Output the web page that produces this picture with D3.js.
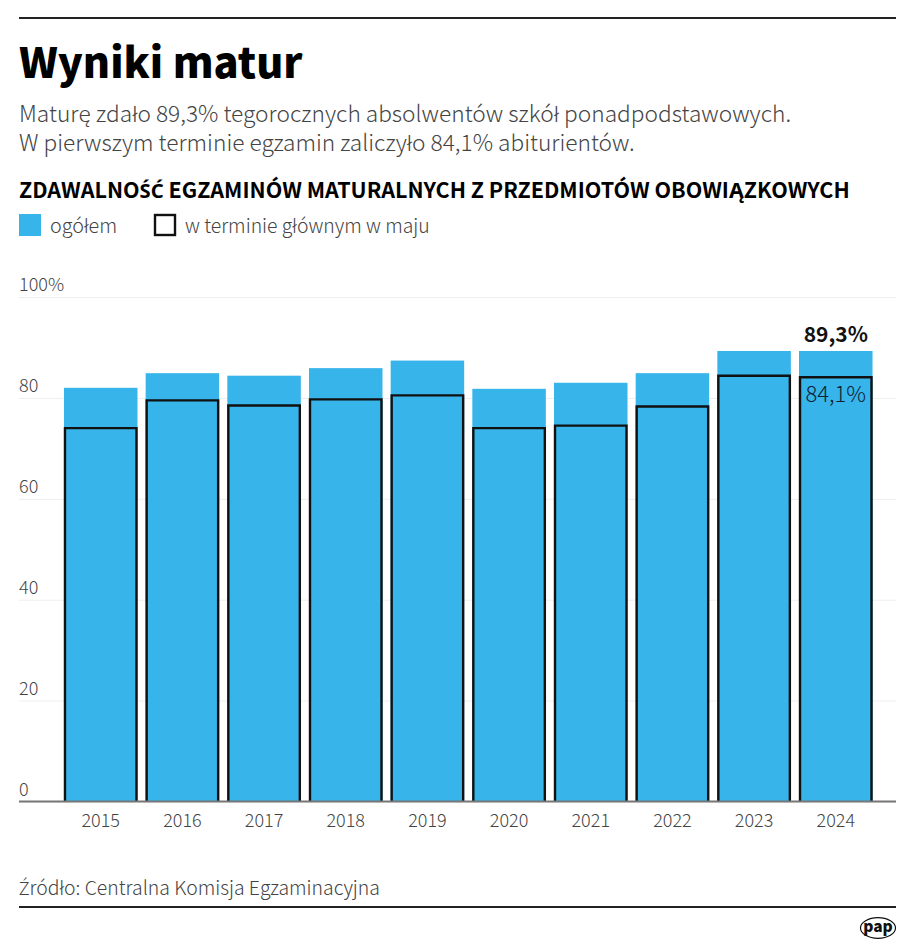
<!DOCTYPE html>
<html>
<head>
<meta charset="utf-8">
<script src="https://cdn.jsdelivr.net/npm/d3@7"></script>
<style>
html, body { margin: 0; padding: 0; background: #fff; }
svg { display: block; }
text { font-family: "Noto Sans CJK JP", "Noto Sans", sans-serif; }
</style>
</head>
<body>
<script>
const years = ["2015", "2016", "2017", "2018", "2019", "2020", "2021", "2022", "2023", "2024"];
const total = [82.0, 84.9, 84.4, 85.9, 87.4, 81.8, 83.0, 84.9, 89.3, 89.3];
const mainTerm = [74.0, 79.5, 78.5, 79.7, 80.5, 74.0, 74.5, 78.3, 84.4, 84.1];
const yTicks = [0, 20, 40, 60, 80, 100];
const subtitle = [
    "Maturę zdało 89,3% tegorocznych absolwentów szkół ponadpodstawowych.",
    "W pierwszym terminie egzamin zaliczyło 84,1% abiturientów."
];

const width = 915, height = 951;
const left = 19, right = 896;
const blue = "#37b4ea";

const svg = d3.select("body").append("svg")
    .attr("width", width)
    .attr("height", height)
    .attr("viewBox", [0, 0, width, height]);

const x = d3.scaleBand()
    .domain(years)
    .range([59.9, 876.6])
    .paddingInner(0.1)
    .paddingOuter(0.05);

const y = d3.scaleLinear()
    .domain([0, 100])
    .range([801.5, 297]);

// the CJK font breaks on these capitals, so they go through Noto Sans
function mixedText(sel, str) {
    str.split(/([ŚĆŹ])/).filter(s => s).forEach(s => {
        const t = sel.append("tspan").text(s);
        if (/^[ŚĆŹ]$/.test(s)) t.style("font-family", '"Noto Sans", sans-serif').attr("font-size", "0.94em");
    });
}

// header
svg.append("rect").attr("x", left).attr("y", 17).attr("width", right - left).attr("height", 2).attr("fill", "#222");

svg.append("text")
    .attr("x", left).attr("y", 78)
    .attr("font-size", 41.5).attr("font-weight", 900).attr("fill", "#000")
    .text("Wyniki matur");

svg.append("g").selectAll("text")
    .data(subtitle)
    .join("text")
    .attr("x", left)
    .attr("y", (d, i) => 122 + i * 29)
    .attr("font-size", 22.7).attr("font-weight", 300).attr("fill", "#444")
    .text(d => d);

svg.append("text")
    .attr("x", left).attr("y", 198)
    .attr("font-size", 21.5).attr("font-weight", 700).attr("fill", "#000")
    .call(mixedText, "ZDAWALNOŚĆ EGZAMINÓW MATURALNYCH Z PRZEDMIOTÓW OBOWIĄZKOWYCH");

// legend
svg.append("rect").attr("x", 19).attr("y", 214).attr("width", 22).attr("height", 22).attr("fill", blue);
svg.append("text").attr("x", 50).attr("y", 233)
    .attr("font-size", 19.8).attr("font-weight", 300).attr("fill", "#444").text("ogółem");
svg.append("rect").attr("x", 155).attr("y", 215).attr("width", 20).attr("height", 20)
    .attr("fill", "#fff").attr("stroke", "#111").attr("stroke-width", 2.4);
svg.append("text").attr("x", 185).attr("y", 233)
    .attr("font-size", 19.4).attr("font-weight", 300).attr("fill", "#444").text("w terminie głównym w maju");

// y axis: gridlines across, labels sitting above them
const yAxis = svg.append("g")
    .attr("transform", `translate(${left},0)`)
    .call(d3.axisRight(y).tickValues(yTicks).tickSize(right - left).tickFormat(d => d === 100 ? "100%" : d));
yAxis.select(".domain").remove();
yAxis.selectAll(".tick line").attr("stroke", "#eeeeee");
yAxis.selectAll(".tick text")
    .attr("x", 0).attr("dy", -6.5)
    .attr("text-anchor", "start")
    .attr("font-size", 18).attr("font-weight", 300).attr("fill", "#444");

// bars
svg.append("g").selectAll("rect")
    .data(years)
    .join("rect")
    .attr("x", d => x(d))
    .attr("width", x.bandwidth())
    .attr("y", (d, i) => y(total[i]))
    .attr("height", (d, i) => y(0) - y(total[i]))
    .attr("fill", blue);

// main-term outline is open at the baseline
svg.append("g").selectAll("path")
    .data(years)
    .join("path")
    .attr("d", (d, i) => {
        const x0 = x(d) + 1, x1 = x(d) + x.bandwidth() - 1;
        return `M${x0},${y(0)}V${y(mainTerm[i])}H${x1}V${y(0)}`;
    })
    .attr("fill", "none")
    .attr("stroke", "#111")
    .attr("stroke-width", 2.4);

// value labels
const last = years.length - 1;
svg.append("text")
    .attr("x", x(years[last]) + x.bandwidth() / 2)
    .attr("y", y(total[last]) - 9)
    .attr("text-anchor", "middle")
    .attr("font-size", 21).attr("font-weight", 700).attr("fill", "#111")
    .text("89,3%");
svg.append("text")
    .attr("x", x(years[last]) + x.bandwidth() / 2)
    .attr("y", y(mainTerm[last]) + 25)
    .attr("text-anchor", "middle")
    .attr("font-size", 22).attr("font-weight", 300).attr("fill", "#123")
    .text("84,1%");

// x axis
const xAxis = svg.append("g")
    .attr("transform", `translate(0,${y(0)})`)
    .call(d3.axisBottom(x).tickSize(0).tickPadding(13));
xAxis.select(".domain").remove();
xAxis.selectAll(".tick text")
    .attr("font-size", 18).attr("font-weight", 300).attr("fill", "#444");
svg.append("line")
    .attr("x1", left).attr("x2", right)
    .attr("y1", y(0)).attr("y2", y(0))
    .attr("stroke", "#777").attr("stroke-width", 1.8);

// footer
svg.append("text")
    .attr("x", left).attr("y", 895)
    .attr("font-size", 19.4).attr("font-weight", 300).attr("fill", "#444")
    .call(mixedText, "Źródło: Centralna Komisja Egzaminacyjna");
svg.append("rect").attr("x", left).attr("y", 906).attr("width", right - left).attr("height", 2).attr("fill", "#222");

// PAP mark
svg.append("ellipse")
    .attr("cx", 878).attr("cy", 928)
    .attr("rx", 17.5).attr("ry", 10.3)
    .attr("fill", "#fff").attr("stroke", "#111").attr("stroke-width", 1.2);
svg.append("text")
    .attr("x", 878).attr("y", 931.5)
    .attr("text-anchor", "middle")
    .attr("font-size", 15.5).attr("font-weight", 900).attr("fill", "#111")
    .text("pap");
</script>
</body>
</html>
